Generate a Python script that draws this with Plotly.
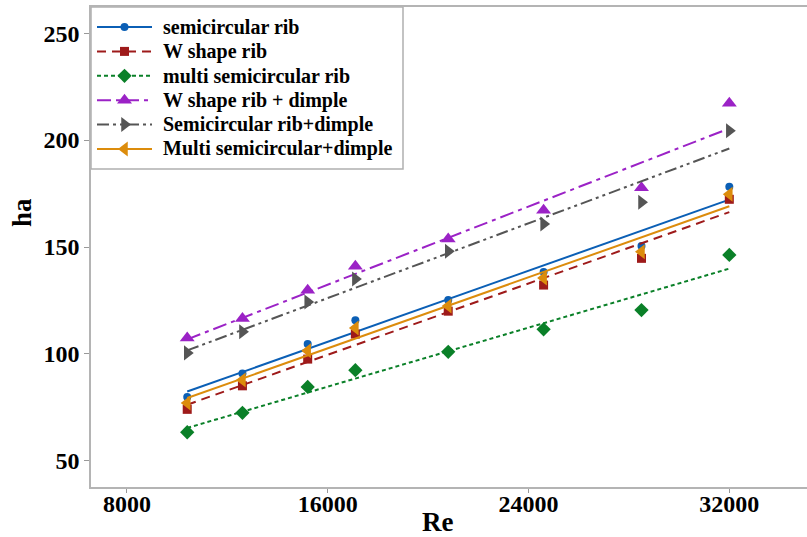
import numpy as np
import plotly.graph_objects as go

# ---- data ----
re_vals = [10400, 12600, 15200, 17100, 20800, 24600, 28500, 32000]

semicircular_rib = [79.9, 90.9, 104.6, 115.8, 125.2, 138.3, 150.5, 178.2]
w_shape_rib = [74.1, 85.1, 97.6, 109.3, 120.0, 132.2, 144.7, 172.3]
multi_semicircular_rib = [63.4, 72.5, 84.6, 92.4, 101.0, 111.5, 120.5, 146.3]
w_shape_rib_dimple = [107.5, 116.6, 129.8, 141.0, 153.7, 167.2, 177.7, 217.2]
semicircular_rib_dimple = [100.5, 110.4, 124.3, 135.0, 148.0, 160.7, 170.9, 204.3]
multi_semicircular_dimple = [77.1, 87.8, 101.5, 112.1, 122.4, 135.5, 147.8, 174.7]

series_names = ["semicircular rib", "W shape rib", "multi semicircular rib",
                "W shape rib + dimple", "Semicircular rib+dimple", "Multi semicircular+dimple"]
series_values = [semicircular_rib, w_shape_rib, multi_semicircular_rib,
                 w_shape_rib_dimple, semicircular_rib_dimple, multi_semicircular_dimple]

y_ticks = [50, 100, 150, 200, 250]
x_ticks = [8000, 16000, 24000, 32000]

# ---- styles ----
colors = ["#0b5fb5", "#9e1a1a", "#0a8028", "#9b22c6", "#555555", "#dc8c0c"]
dashes = ["solid", "9px,6px", "4px,3px", "14px,5px,4px,5px", "12px,4px,3px,4px,3px,4px", "solid"]
symbols = ["circle", "square", "diamond", "triangle-up", "triangle-right", "triangle-left"]
msizes = [8, 9, 11, 13, 13, 13]

W, H = 807, 537
ml, mr, mt, mb = 91, 0, 7, 50
pw, ph = W - ml - mr, H - mt - mb
font_family = "Liberation Serif"


def px_x(p):
    return (p - ml) / pw


def px_y(p):
    return (H - mb - p) / ph


fig = go.Figure()
x = np.array(re_vals, dtype=float)
for name, vals, c, d, s, ms in zip(series_names, series_values, colors, dashes, symbols, msizes):
    y = np.array(vals, dtype=float)
    k, b = np.polyfit(x, y, 1)
    xf = [x.min(), x.max()]
    yf = [k * xf[0] + b, k * xf[1] + b]
    fig.add_trace(go.Scatter(x=xf, y=yf, mode="lines", line=dict(color=c, width=2, dash=d),
                             showlegend=False, hoverinfo="skip"))
    fig.add_trace(go.Scatter(x=re_vals, y=vals, mode="markers", name=name,
                             marker=dict(symbol=s, size=ms, color=c), showlegend=False))

# ---- hand-built legend (layout in pixels) ----
leg_left, leg_top, leg_right, leg_bottom = 91, 7, 403, 169
row0, row_step = 27, 24.4
line_x0, line_x1, text_x = 97, 152, 161
shapes = [dict(type="rect", xref="paper", yref="paper",
               x0=px_x(leg_left), x1=px_x(leg_right), y0=px_y(leg_bottom), y1=px_y(leg_top),
               line=dict(color="#b0b0b0", width=1.5), fillcolor="white", layer="below")]
annotations = []
leg_mx, leg_my = [], []
for i, (name, c, d) in enumerate(zip(series_names, colors, dashes)):
    ry = row0 + i * row_step
    shapes.append(dict(type="line", xref="paper", yref="paper",
                       x0=px_x(line_x0), x1=px_x(line_x1), y0=px_y(ry), y1=px_y(ry),
                       line=dict(color=c, width=2, dash=d), layer="above"))
    annotations.append(dict(text=name, xref="paper", yref="paper", x=px_x(text_x), y=px_y(ry),
                            xanchor="left", yanchor="middle", showarrow=False,
                            font=dict(family=font_family, size=20, color="black", weight="bold")))
    leg_mx.append((line_x0 + line_x1) / 2)
    leg_my.append(ry)

# legend markers on an overlay axis measured in pixels
for i, (c, s, ms) in enumerate(zip(colors, symbols, msizes)):
    fig.add_trace(go.Scatter(x=[leg_mx[i]], y=[leg_my[i]], mode="markers", xaxis="x2", yaxis="y2",
                             marker=dict(symbol=s, size=ms, color=c), showlegend=False,
                             hoverinfo="skip", cliponaxis=False))

annotations += [
    dict(text="Re", xref="paper", yref="paper", x=px_x(437), y=px_y(522),
         xanchor="center", yanchor="middle", showarrow=False,
         font=dict(family=font_family, size=27, color="black", weight="bold")),
    dict(text="ha", xref="paper", yref="paper", x=px_x(22), y=px_y(213),
         xanchor="center", yanchor="middle", showarrow=False, textangle=-90,
         font=dict(family=font_family, size=27, color="black", weight="bold")),
]

fig.update_layout(
    width=W, height=H,
    margin=dict(l=ml, r=mr, t=mt, b=mb, pad=0),
    paper_bgcolor="white", plot_bgcolor="white",
    font=dict(family=font_family, color="black"),
    showlegend=False,
    xaxis=dict(range=[6566, 35095], tickvals=x_ticks, ticktext=[str(v) for v in x_ticks],
               showgrid=False, zeroline=False, showline=True, linecolor="#b4b4b4", linewidth=1.5,
               mirror=True, ticks="outside", ticklen=4, tickcolor="#999999",
               ticklabelstandoff=-10,
               tickfont=dict(family=font_family, size=24, color="black", weight="bold")),
    yaxis=dict(range=[37.8, 262.2], tickvals=y_ticks, ticktext=[str(v) for v in y_ticks],
               showgrid=False, zeroline=False, showline=True, linecolor="#b4b4b4", linewidth=1.5,
               ticks="outside", ticklen=5, tickcolor="#999999",
               tickfont=dict(family=font_family, size=24, color="black", weight="bold")),
    xaxis2=dict(overlaying="x", range=[ml, W - mr], visible=False, fixedrange=True),
    yaxis2=dict(overlaying="y", range=[H - mb, mt], visible=False, fixedrange=True),
    shapes=shapes,
    annotations=annotations,
)

fig.write_html("out.html")
